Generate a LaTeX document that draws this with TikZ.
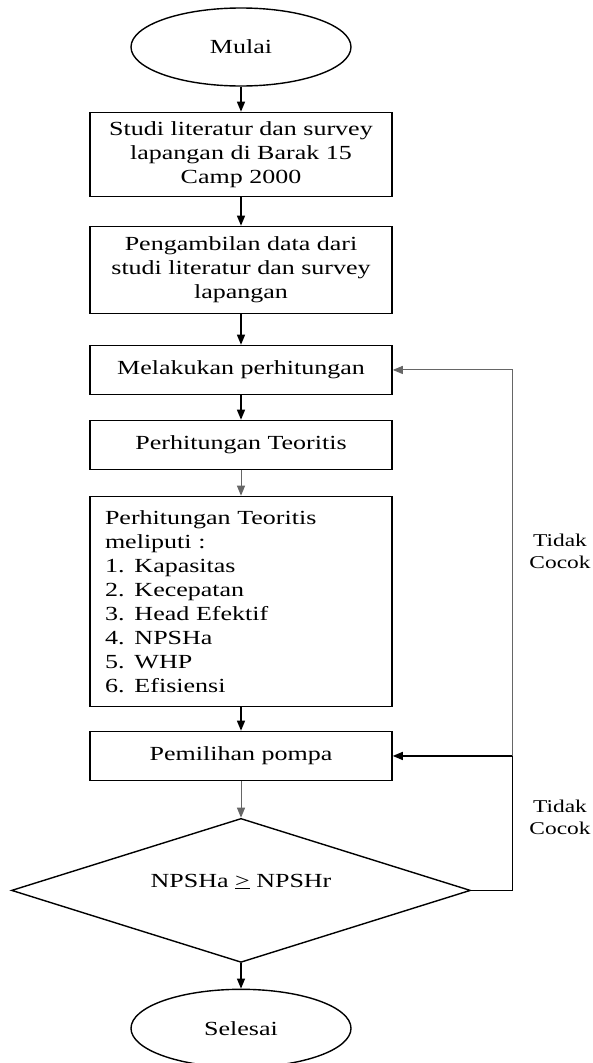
\documentclass[tikz,border=0pt]{standalone}
\usepackage{fontspec}
\setmainfont{Liberation Serif}[FakeStretch=1.3]
\usepackage{tikz}
\usetikzlibrary{arrows.meta, positioning, shapes.geometric, calc}

\begin{document}
\begin{tikzpicture}[
  box/.style={draw, line width=1.5pt, align=center, font=\fontsize{20}{24}\selectfont,
              minimum width=302pt, inner sep=4pt},
  term/.style={draw, ellipse, line width=1.4pt, font=\fontsize{20}{24}\selectfont,
               minimum width=220pt, minimum height=78pt, inner sep=0pt},
  dec/.style={draw, diamond, shape aspect=3.2, line width=1.4pt, font=\fontsize{20}{24}\selectfont,
              minimum width=459pt, minimum height=144pt, inner sep=0pt},
  arr/.style={-{Triangle[length=10pt, width=8pt]}, line width=1.3pt},
  tipis/.style={draw=black!60, line width=1pt},
  ket/.style={font=\fontsize{18}{22}\selectfont, align=center},
]
  \useasboundingbox (0,0) rectangle (593pt,-1063pt);

  \node[term] (mulai) at (241pt,-47pt) {Mulai};
  \node[box, minimum height=84pt, below=25pt of mulai] (studi)
        {Studi literatur dan survey\\lapangan di Barak 15\\Camp 2000};
  \node[box, minimum height=87pt, below=28.5pt of studi] (data)
        {Pengambilan data dari\\studi literatur dan survey\\lapangan};
  \node[box, minimum height=49pt, below=30.5pt of data]  (hitung) {Melakukan perhitungan};
  \node[box, minimum height=49pt, below=24.5pt of hitung] (teori) {Perhitungan Teoritis};
  \node[box, minimum height=210pt, below=25.5pt of teori, align=left,
        text width=272pt, inner xsep=15pt] (rinci)
        {Perhitungan Teoritis\\meliputi :\\1. Kapasitas\\2. Kecepatan\\3. Head Efektif\\4. NPSHa\\5. WHP\\6. Efisiensi};
  \node[box, minimum height=49pt, below=23.5pt of rinci] (pilih) {Pemilihan pompa};
  \node[dec, below=36.5pt of pilih] (cek) {\raisebox{20pt}{NPSHa \underline{>} NPSHr}};
  \node[term, below=25.5pt of cek] (selesai) {Selesai};

  \draw[arr] (mulai) -- (studi);
  \draw[arr] (studi) -- (data);
  \draw[arr] (data) -- (hitung);
  \draw[arr] (hitung) -- (teori);
  \draw[arr, tipis] (teori) -- (rinci);
  \draw[arr] (rinci) -- (pilih);
  \draw[arr, tipis] (pilih) -- (cek);
  \draw[arr] (cek) -- (selesai);

  % jalur balik "Tidak Cocok"
  \coordinate (balik) at ($(cek.east)+(41pt,0)$);
  \draw[arr] (cek.east) -- (balik) |- (pilih.east);
  \draw[arr, tipis] (balik |- pilih.east) |- (hitung.east);

  \node[ket] (ket1) at (560pt,-551pt) {Tidak\\Cocok};
  \node[ket] (ket2) at (560pt,-817pt) {Tidak\\Cocok};
\end{tikzpicture}
\end{document}
